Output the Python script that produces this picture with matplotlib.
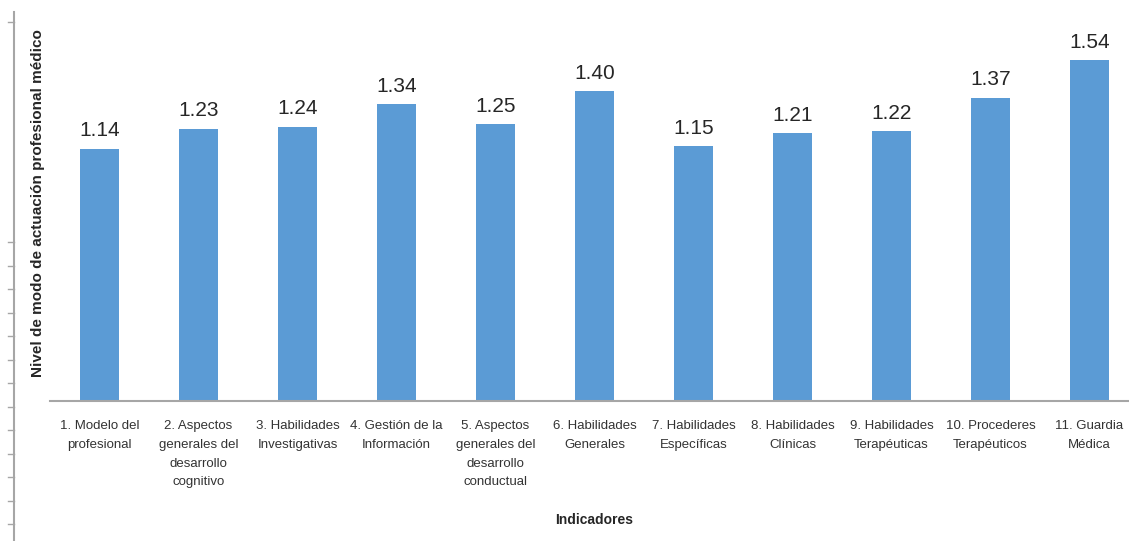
import numpy as np
import matplotlib.pyplot as plt
from matplotlib.lines import Line2D

categorias = [
    "1. Modelo del\nprofesional",
    "2. Aspectos\ngenerales del\ndesarrollo\ncognitivo",
    "3. Habilidades\nInvestigativas",
    "4. Gestión de la\nInformación",
    "5. Aspectos\ngenerales del\ndesarrollo\nconductual",
    "6. Habilidades\nGenerales",
    "7. Habilidades\nEspecíficas",
    "8. Habilidades\nClínicas",
    "9. Habilidades\nTerapéuticas",
    "10. Procederes\nTerapéuticos",
    "11. Guardia\nMédica",
]
valores = [1.14, 1.23, 1.24, 1.34, 1.25, 1.40, 1.15, 1.21, 1.22, 1.37, 1.54]

fuente = ['Liberation Sans Narrow', 'Liberation Sans', 'DejaVu Sans']
plt.rcParams['font.family'] = fuente

W, H = 1129, 541
fig = plt.figure(figsize=(W / 100, H / 100), dpi=100)
ax = fig.add_axes([50 / W, 140.3 / H, 1089 / W, 398 / H])

x = np.arange(len(valores))
barras = ax.bar(x, valores, width=0.4, color='#5B9BD5')

for b, v in zip(barras, valores):
    ax.annotate(f"{v:.2f}", (b.get_x() + b.get_width() / 2, v),
                xytext=(0, 6), textcoords='offset points',
                ha='center', va='bottom', fontsize=15, color='#262626')

ax.set_xlim(-0.5, len(valores) - 0.5)
ax.set_ylim(0, 1.8)
ax.set_xticks(x)
ax.set_xticklabels(categorias, fontsize=9.5, color='#333333', linespacing=1.75)
ax.tick_params(axis='x', length=0, pad=14)
ax.set_yticks([])
for s in ['top', 'right', 'left']:
    ax.spines[s].set_visible(False)
ax.spines['bottom'].set_color('#A6A6A6')
ax.spines['bottom'].set_linewidth(1.5)

ax.set_xlabel("Indicadores", fontsize=10, fontweight='bold', color='#262626')
ax.xaxis.set_label_coords((594 - 50) / 1089, -(513 - 400.7) / 398)
fig.text(38 / W, 1 - 203 / H, "Nivel de modo de actuación profesional médico",
         rotation=90, ha='center', va='center', fontsize=11,
         fontweight='bold', color='#262626')

# regla vertical a la izquierda
fig.add_artist(Line2D([14 / W, 14 / W], [0, 1 - 12 / H],
                      color='#A6A6A6', lw=1.5))
marcas = [22] + list(np.arange(242, 530, 23.5))
for yy in marcas:
    fig.add_artist(Line2D([8 / W, 14 / W], [1 - yy / H, 1 - yy / H],
                          color='#A6A6A6', lw=1))

fig.savefig('out.png', dpi=100)
